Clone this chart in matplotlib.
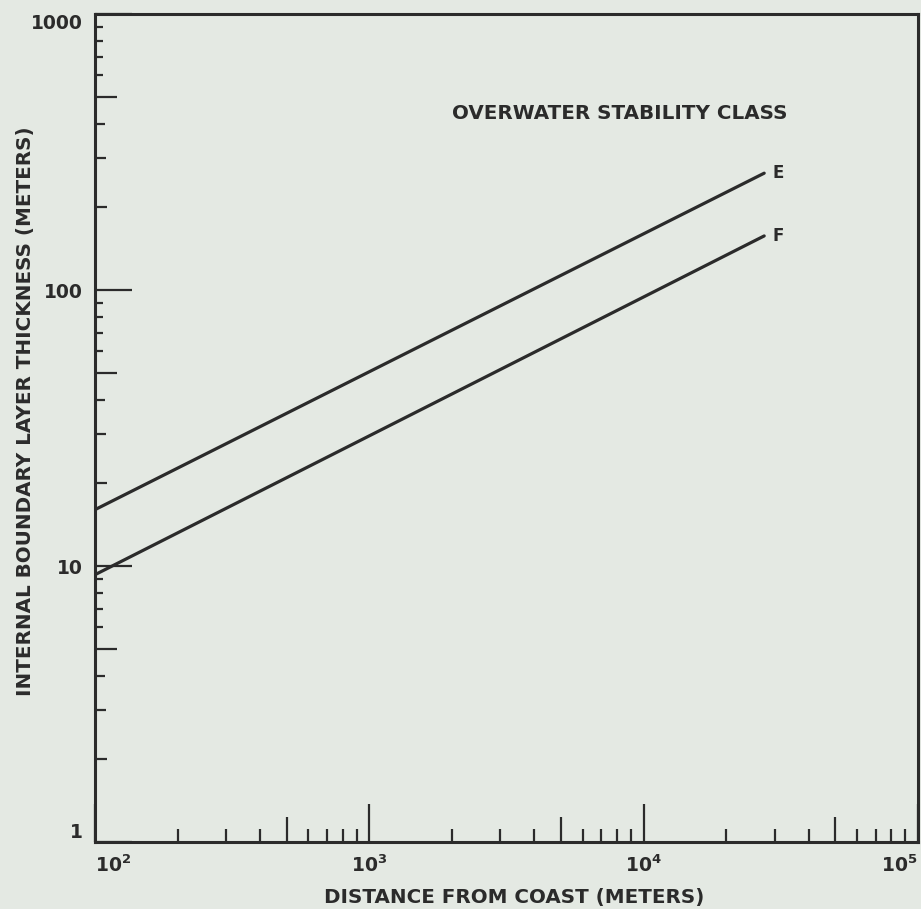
"""
plot.py
Internal boundary layer thickness vs distance from coast (log-log).
"""

import matplotlib
matplotlib.use("Agg")
import matplotlib.pyplot as plt
from matplotlib.ticker import FixedLocator, FixedFormatter, NullFormatter

# end points of each stability-class line
distance = [100, 27500]          # meters from coast
class_e = [16, 265]              # meters
class_f = [9.3, 157]             # meters
class_names = ["E", "F"]

x_major = [1e2, 1e3, 1e4, 1e5]
x_major_labels = [r"$\mathbf{10^{2}}$", r"$\mathbf{10^{3}}$",
                  r"$\mathbf{10^{4}}$", r"$\mathbf{10^{5}}$"]
y_major = [1, 10, 100, 1000]
y_major_labels = ["1", "10", "100", "1000"]
mantissas = [2, 3, 4, 5, 6, 7, 8, 9]

BG = "#e4e9e3"
INK = "#2b2b2b"
PX = 0.72  # points per pixel at dpi 100

plt.rcParams["font.family"] = "DejaVu Sans"
plt.rcParams["font.weight"] = "bold"
plt.rcParams["axes.labelweight"] = "bold"
plt.rcParams["mathtext.fontset"] = "dejavusans"
plt.rcParams["text.color"] = INK


"""
Set tick lengths one by one, keyed by the mantissa of the tick value.
"""
def set_minor_lengths(axis, lengths, default):
    locs = axis.get_minorticklocs()
    for tick, loc in zip(axis.get_minor_ticks(len(locs)), locs):
        m = int(round(loc / 10 ** (len(str(int(round(loc)))) - 1)))
        tick.tick1line.set_markersize(lengths.get(m, default) * PX)


fig = plt.figure(figsize=(9.21, 9.09), dpi=100, facecolor=BG)
ax = fig.add_axes([95 / 921, 1 - 842 / 909, 823 / 921, 828 / 909])
ax.set_facecolor(BG)

ax.plot(distance, class_e, color=INK, linewidth=2.3, solid_capstyle="round")
ax.plot(distance, class_f, color=INK, linewidth=2.3, solid_capstyle="round")
for name, series in zip(class_names, [class_e, class_f]):
    ax.annotate(name, xy=(distance[-1], series[-1]), xytext=(6, 0),
                textcoords="offset points", va="center", ha="left",
                fontsize=12, color=INK)

ax.set_xscale("log")
ax.set_yscale("log")
ax.set_xlim(1e2, 1e5)
ax.set_ylim(1, 1000)

# ticks
ax.xaxis.set_major_locator(FixedLocator(x_major))
ax.xaxis.set_major_formatter(FixedFormatter(x_major_labels))
ax.yaxis.set_major_locator(FixedLocator(y_major))
ax.yaxis.set_major_formatter(FixedFormatter(y_major_labels))
x_minor = [m * 10 ** d for d in (2, 3, 4) for m in mantissas]
y_minor = [m * 10 ** d for d in (0, 1, 2) for m in mantissas]
ax.xaxis.set_minor_locator(FixedLocator(x_minor))
ax.yaxis.set_minor_locator(FixedLocator(y_minor))
ax.xaxis.set_minor_formatter(NullFormatter())
ax.yaxis.set_minor_formatter(NullFormatter())

ax.tick_params(which="both", direction="in", color=INK, width=1.6,
               top=False, right=False)
ax.tick_params(axis="x", which="major", length=38 * PX, pad=9, labelsize=13.5,
               labelcolor=INK)
ax.tick_params(axis="y", which="major", length=37 * PX, pad=9, labelsize=13.5,
               labelcolor=INK)
set_minor_lengths(ax.xaxis, {5: 25}, 13)
set_minor_lengths(ax.yaxis, {2: 12, 3: 11, 4: 10, 5: 22}, 8)

xl = ax.get_xticklabels()
xl[0].set_ha("left")
xl[-1].set_ha("right")
yl = ax.get_yticklabels()
yl[0].set_va("bottom")
yl[-1].set_va("top")

for sp in ax.spines.values():
    sp.set_linewidth(2.2)
    sp.set_color(INK)

ax.set_xlabel("DISTANCE FROM COAST (METERS)", fontsize=14.3, color=INK,
              fontweight="bold")
ax.set_ylabel("INTERNAL BOUNDARY LAYER THICKNESS (METERS)", fontsize=14.3,
              color=INK, fontweight="bold")
ax.xaxis.set_label_coords(0.509, -0.056)
ax.yaxis.set_label_coords(-0.073, 0.52)

ax.text(0.637, 0.880, "OVERWATER STABILITY CLASS", transform=ax.transAxes,
        ha="center", va="center", fontsize=14.3, color=INK)

fig.savefig("out.png", dpi=100, facecolor=BG)
